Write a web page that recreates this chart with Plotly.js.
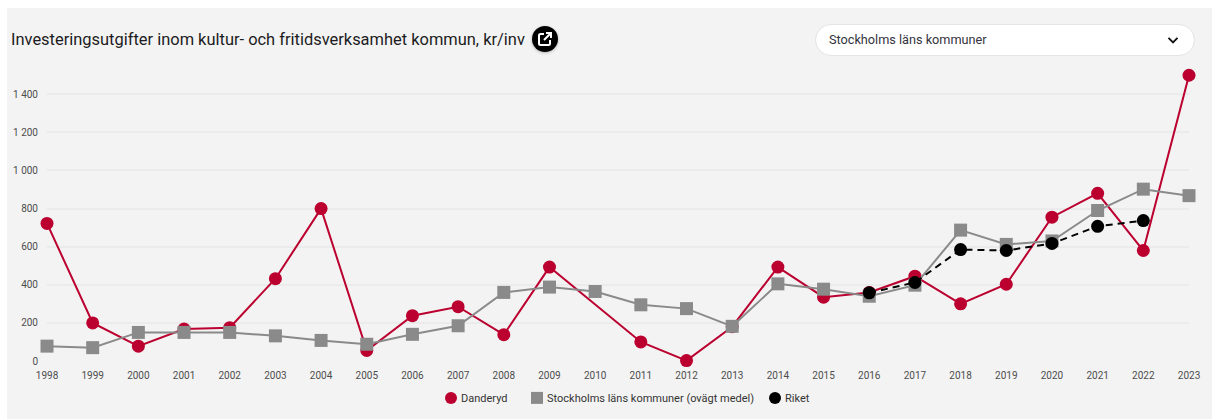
<!DOCTYPE html>
<html lang="sv">
<head>
<meta charset="utf-8">
<script src="https://cdn.plot.ly/plotly-3.0.1.min.js"></script>
<style>
html,body{margin:0;padding:0;background:#fff;width:1212px;height:419px;overflow:hidden;font-family:Roboto,sans-serif}
#panel{position:absolute;left:7px;top:8px;width:1205px;height:411px;background:#f3f3f3}
#chart{position:absolute;left:0;top:0;width:1212px;height:419px}
#title{position:absolute;left:11px;top:29px;font-size:16.45px;line-height:22px;color:#1c1c22;white-space:nowrap}
#icon{position:absolute;left:532px;top:26px;width:26px;height:26px;border-radius:50%;background:#000;box-shadow:0 1px 3px rgba(0,0,0,.25)}
#select{position:absolute;left:815px;top:24px;width:378px;height:30px;background:#fff;border:1px solid #e4e4e4;border-radius:16px;box-sizing:content-box}
#select span{position:absolute;left:13px;top:7px;font-size:12.7px;line-height:16px;color:#33333d;white-space:nowrap}
#select svg{position:absolute;left:351px;top:11px}
</style>
</head>
<body>
<div id="panel"></div>
<div id="chart"></div>
<div id="title">Investeringsutgifter inom kultur- och fritidsverksamhet kommun, kr/inv</div>
<div id="icon"><svg width="26" height="26" viewBox="0 0 26 26"><path d="M12 8H8.500A1.500 1.500 0 0 0 7 9.500V17.500A1.500 1.500 0 0 0 8.500 19H16.500A1.500 1.500 0 0 0 18 17.500V14" fill="none" stroke="#fff" stroke-width="2"/><path d="M14 7H19V12M19 7L12 14" fill="none" stroke="#fff" stroke-width="2"/></svg></div>
<div id="select"><span>Stockholms läns kommuner</span><svg width="12" height="9" viewBox="0 0 12 9"><path d="M1.500 1.800L6 6.300L10.500 1.800" fill="none" stroke="#111" stroke-width="1.900"/></svg></div>
<script>
const years = [1998,1999,2000,2001,2002,2003,2004,2005,2006,2007,2008,2009,2010,2011,2012,2013,2014,2015,2016,2017,2018,2019,2020,2021,2022,2023];
const danderyd = [722,200,78,168,175,432,800,55,238,285,138,493,null,100,2,180,493,335,360,445,300,403,755,880,580,1500];
const stockholm = [78,70,150,150,150,132,108,88,140,185,360,388,365,295,275,182,405,377,340,398,687,612,630,790,902,868];
const riket = [null,null,null,null,null,null,null,null,null,null,null,null,null,null,null,null,null,null,358,412,585,580,617,707,737,null];
const yTicks = [0,200,400,600,800,1000,1200,1400];
const yTickLabels = ["0","200","400","600","800","1 000","1 200","1 400"];
const names = ["Danderyd","Stockholms läns kommuner (ovägt medel)","Riket"];
const RED="#bb0030", GREY="#8a8a8a", BLACK="#000000";

const series = (y,name,color,symbol,size,dash)=>({
  x:years,y:y,name:name,type:"scatter",mode:"lines+markers",connectgaps:true,cliponaxis:false,
  showlegend:false,hoverinfo:"x+y+name",
  line:{color:color,width:2,dash:dash},
  marker:{color:color,symbol:symbol,size:size}
});
const legendOnly = (name,color,symbol,size)=>({
  x:[null],y:[null],name:name,type:"scatter",mode:"markers",showlegend:true,
  marker:{color:color,symbol:symbol,size:size}
});
const data = [
  series(danderyd,names[0],RED,"circle",13,"solid"),
  series(stockholm,names[1],GREY,"square",13,"solid"),
  series(riket,names[2],BLACK,"circle",13,"7px,5px"),
  legendOnly(names[0],RED,"circle",12),
  legendOnly(names[1],GREY,"square",12),
  legendOnly(names[2],BLACK,"circle",12)
];
const layout = {
  width:1212,height:419,
  paper_bgcolor:"rgba(0,0,0,0)",plot_bgcolor:"rgba(0,0,0,0)",
  margin:{l:47,r:23,t:60,b:58},
  font:{family:"Roboto, sans-serif",size:10,color:"#4d4d4d"},
  showlegend:true,
  legend:{orientation:"h",xref:"container",yref:"container",x:0.5,xanchor:"center",y:0.085,yanchor:"top",font:{size:11,color:"#333"},itemwidth:30,bgcolor:"rgba(0,0,0,0)"},
  xaxis:{range:[1998,2023],tickvals:years,ticktext:years.map(String),tickangle:0,showgrid:false,zeroline:false,showline:false,ticks:"",ticklabelstandoff:7,tickfont:{size:10,color:"#4d4d4d"},fixedrange:true},
  yaxis:{range:[0,1580],tickvals:yTicks,ticktext:yTickLabels,gridcolor:"#ebebeb",gridwidth:2,zeroline:false,showline:false,ticks:"",ticklabelstandoff:8,tickfont:{size:10,color:"#4d4d4d"},fixedrange:true}
};
// Tighten the legend's marker-to-label gap, which Plotly has no option for.
const legendMarkerX = [451,537,775];
function tightenLegend(){
  const lg=document.querySelector("#chart .legend");
  if(!lg) return;
  const m=/translate\(([-\d.]+)/.exec(lg.getAttribute("transform")||"");
  const lx=m?parseFloat(m[1]):0;
  const box=lg.querySelector(".scrollbox");
  if(box) box.removeAttribute("clip-path");
  lg.querySelectorAll(".traces").forEach((t,i)=>{
    const ty=/,\s*([-\d.]+)\)/.exec(t.getAttribute("transform")||"");
    t.setAttribute("transform","translate("+(legendMarkerX[i]-20-lx)+","+(ty?ty[1]:0)+")");
    const txt=t.querySelector(".legendtext");
    if(txt) txt.setAttribute("x",30);
  });
}
Plotly.newPlot("chart",data,layout,{displayModeBar:false,responsive:false}).then(tightenLegend);
</script>
</body>
</html>
